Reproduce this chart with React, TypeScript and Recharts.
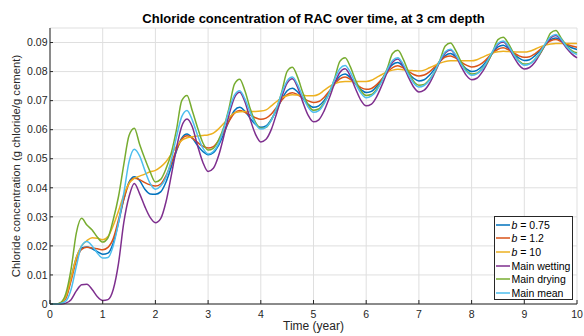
import { LineChart, Line, XAxis, YAxis, CartesianGrid, Legend } from "recharts";

const FONT = "'Liberation Sans', Arial, Helvetica, sans-serif";

// time axis, years (step 0.1)
const years = [
  0, 0.1, 0.2, 0.3, 0.4, 0.5, 0.6, 0.7, 0.8, 0.9,
  1, 1.1, 1.2, 1.3, 1.4, 1.5, 1.6, 1.7, 1.8, 1.9,
  2, 2.1, 2.2, 2.3, 2.4, 2.5, 2.6, 2.7, 2.8, 2.9,
  3, 3.1, 3.2, 3.3, 3.4, 3.5, 3.6, 3.7, 3.8, 3.9,
  4, 4.1, 4.2, 4.3, 4.4, 4.5, 4.6, 4.7, 4.8, 4.9,
  5, 5.1, 5.2, 5.3, 5.4, 5.5, 5.6, 5.7, 5.8, 5.9,
  6, 6.1, 6.2, 6.3, 6.4, 6.5, 6.6, 6.7, 6.8, 6.9,
  7, 7.1, 7.2, 7.3, 7.4, 7.5, 7.6, 7.7, 7.8, 7.9,
  8, 8.1, 8.2, 8.3, 8.4, 8.5, 8.6, 8.7, 8.8, 8.9,
  9, 9.1, 9.2, 9.3, 9.4, 9.5, 9.6, 9.7, 9.8, 9.9,
  10,
];

// b = 0.75
const b075 = [
  0, 0, 0.0003, 0.002, 0.009, 0.016, 0.0193, 0.0196, 0.019, 0.018,
  0.0171, 0.0175, 0.021, 0.028, 0.036, 0.042, 0.0438, 0.0425, 0.0395, 0.0379,
  0.0378, 0.0386, 0.0419, 0.0471, 0.0527, 0.0571, 0.0585, 0.0571, 0.0546, 0.0525,
  0.0514, 0.0521, 0.0547, 0.0587, 0.0631, 0.0666, 0.0677, 0.0663, 0.0639, 0.0618,
  0.0608, 0.0613, 0.0635, 0.0669, 0.0705, 0.0734, 0.0743, 0.073, 0.0707, 0.0687,
  0.0677, 0.0682, 0.07, 0.0729, 0.076, 0.0784, 0.0792, 0.0779, 0.0757, 0.0738,
  0.0728, 0.0732, 0.0749, 0.0774, 0.0802, 0.0824, 0.0831, 0.0818, 0.0796, 0.0777,
  0.0768, 0.0772, 0.0787, 0.081, 0.0836, 0.0855, 0.0862, 0.085, 0.0828, 0.0809,
  0.08, 0.0804, 0.0818, 0.0841, 0.0866, 0.0885, 0.0891, 0.088, 0.0862, 0.0846,
  0.0838, 0.0841, 0.0854, 0.0873, 0.0894, 0.091, 0.0916, 0.0907, 0.0893, 0.0882,
  0.0876,
];

// b = 1.2
const b12 = [
  0, 0, 0.0003, 0.002, 0.008, 0.015, 0.0188, 0.0195, 0.0193, 0.019,
  0.0187, 0.0195, 0.0225, 0.029, 0.036, 0.0415, 0.0433, 0.0428, 0.0418, 0.041,
  0.0406, 0.0413, 0.0441, 0.0484, 0.0531, 0.0567, 0.0579, 0.0571, 0.0556, 0.0543,
  0.0537, 0.0542, 0.0563, 0.0595, 0.063, 0.0657, 0.0666, 0.066, 0.065, 0.0641,
  0.0636, 0.064, 0.0654, 0.0677, 0.0702, 0.0721, 0.0727, 0.072, 0.0709, 0.0699,
  0.0694, 0.0697, 0.0711, 0.0733, 0.0757, 0.0775, 0.0781, 0.0773, 0.0758, 0.0745,
  0.0739, 0.0742, 0.0755, 0.0775, 0.0797, 0.0814, 0.082, 0.0813, 0.0801, 0.079,
  0.0785, 0.0788, 0.0799, 0.0816, 0.0835, 0.085, 0.0854, 0.0846, 0.0833, 0.0822,
  0.0816, 0.0819, 0.0829, 0.0846, 0.0864, 0.0877, 0.0882, 0.0875, 0.0864, 0.0854,
  0.0849, 0.0851, 0.0861, 0.0876, 0.0893, 0.0906, 0.091, 0.0903, 0.0895, 0.0888,
  0.0884,
];

// b = 10
const b10 = [
  0, 0, 0.0003, 0.0025, 0.009, 0.016, 0.02, 0.0218, 0.0228, 0.0226,
  0.0221, 0.0232, 0.027, 0.032, 0.0375, 0.0415, 0.0432, 0.044, 0.0447, 0.0455,
  0.046, 0.0472, 0.049, 0.0515, 0.0542, 0.0563, 0.0572, 0.0576, 0.0578, 0.058,
  0.0582, 0.0588, 0.0603, 0.0622, 0.0642, 0.0658, 0.0662, 0.0663, 0.0663, 0.0663,
  0.0664, 0.0668, 0.0682, 0.0697, 0.071, 0.0717, 0.072, 0.0719, 0.0718, 0.0717,
  0.0717, 0.0722, 0.0735, 0.0748, 0.0758, 0.0764, 0.0766, 0.0766, 0.0766, 0.0766,
  0.0766, 0.077, 0.078, 0.079, 0.0799, 0.0805, 0.0808, 0.0806, 0.0804, 0.0803,
  0.0802, 0.0805, 0.0813, 0.0821, 0.0829, 0.0835, 0.0837, 0.0837, 0.0837, 0.0837,
  0.0837, 0.0841, 0.0849, 0.0857, 0.0864, 0.0868, 0.087, 0.0869, 0.0868, 0.0867,
  0.0867, 0.087, 0.0877, 0.0885, 0.0891, 0.0895, 0.0897, 0.0897, 0.0897, 0.0897,
  0.0897,
];

// main wetting curve
const wetting = [
  0, 0, 0, 0.0003, 0.0015, 0.0045, 0.0066, 0.0068, 0.005, 0.0025,
  0.0012, 0.0015, 0.005, 0.014, 0.028, 0.037, 0.0415, 0.038, 0.0335, 0.0298,
  0.028, 0.0294, 0.0351, 0.0441, 0.0537, 0.0612, 0.0637, 0.061, 0.0545, 0.0488,
  0.0456, 0.0467, 0.0511, 0.0579, 0.0653, 0.071, 0.0729, 0.0695, 0.0635, 0.0584,
  0.0558, 0.0567, 0.0601, 0.0656, 0.0714, 0.076, 0.0775, 0.0745, 0.0694, 0.0649,
  0.0627, 0.0634, 0.0664, 0.0709, 0.0759, 0.0797, 0.081, 0.0784, 0.074, 0.0701,
  0.0682, 0.0688, 0.0714, 0.0754, 0.0798, 0.0832, 0.0843, 0.082, 0.0781, 0.0747,
  0.073, 0.0736, 0.0759, 0.0795, 0.0834, 0.0864, 0.0874, 0.0854, 0.0818, 0.0787,
  0.0772, 0.0777, 0.0798, 0.083, 0.0866, 0.0893, 0.0902, 0.0883, 0.0851, 0.0823,
  0.0809, 0.0814, 0.0832, 0.0861, 0.0892, 0.0916, 0.0924, 0.0906, 0.0881, 0.0861,
  0.0847,
];

// main drying curve
const drying = [
  0, 0, 0.0005, 0.0035, 0.012, 0.0245, 0.0295, 0.0272, 0.0255, 0.023,
  0.0213, 0.0228, 0.029, 0.037, 0.048, 0.058, 0.0605, 0.055, 0.05, 0.0455,
  0.042, 0.0429, 0.0465, 0.0519, 0.06, 0.07, 0.0718, 0.0665, 0.0607, 0.0555,
  0.053, 0.0536, 0.0565, 0.061, 0.0677, 0.0757, 0.0774, 0.0733, 0.0672, 0.0625,
  0.0605, 0.0608, 0.0634, 0.0673, 0.0732, 0.0801, 0.0815, 0.078, 0.0726, 0.0685,
  0.0667, 0.0671, 0.0693, 0.0726, 0.0776, 0.0835, 0.0848, 0.0816, 0.077, 0.0734,
  0.0718, 0.0721, 0.074, 0.0769, 0.0811, 0.0862, 0.0873, 0.0844, 0.0801, 0.0767,
  0.0753, 0.0756, 0.0773, 0.08, 0.084, 0.0888, 0.0898, 0.0872, 0.0834, 0.0804,
  0.0792, 0.0794, 0.081, 0.0833, 0.0868, 0.091, 0.0918, 0.0896, 0.0862, 0.0836,
  0.0826, 0.0828, 0.0842, 0.0863, 0.0895, 0.0933, 0.0941, 0.0915, 0.0889, 0.0872,
  0.0864,
];

// main mean curve
const mean = [
  0, 0, 0.0002, 0.001, 0.005, 0.013, 0.02, 0.0215, 0.02, 0.0175,
  0.0158, 0.016, 0.02, 0.028, 0.038, 0.049, 0.0533, 0.051, 0.046, 0.0415,
  0.0395, 0.0406, 0.0435, 0.0495, 0.0575, 0.0645, 0.0666, 0.0633, 0.0581, 0.0537,
  0.0516, 0.0525, 0.0553, 0.0605, 0.0669, 0.0719, 0.0734, 0.0705, 0.0659, 0.062,
  0.0602, 0.0609, 0.0632, 0.0675, 0.0727, 0.0768, 0.0781, 0.0754, 0.0712, 0.0677,
  0.066, 0.0666, 0.0689, 0.0728, 0.0773, 0.081, 0.0821, 0.0797, 0.0758, 0.0726,
  0.071, 0.0716, 0.0735, 0.0768, 0.0807, 0.0838, 0.0848, 0.0826, 0.079, 0.0761,
  0.0747, 0.0752, 0.077, 0.0802, 0.0838, 0.0868, 0.0877, 0.0857, 0.0826, 0.08,
  0.0787, 0.0792, 0.0808, 0.0837, 0.087, 0.0897, 0.0905, 0.0887, 0.0858, 0.0834,
  0.0822, 0.0826, 0.0841, 0.0867, 0.0896, 0.092, 0.0928, 0.0911, 0.0886, 0.0868,
  0.0859,
];

const seriesKeys = ["b075", "b12", "b10", "wetting", "drying", "mean"];
const seriesNames = ["b = 0.75", "b = 1.2", "b = 10", "Main wetting", "Main drying", "Main mean"];
const seriesColors = ["#0072BD", "#D95319", "#EDB120", "#7E2F8E", "#77AC30", "#4DBEEE"];

const xTicks = [0, 1, 2, 3, 4, 5, 6, 7, 8, 9, 10];
const yTicks = [0, 0.01, 0.02, 0.03, 0.04, 0.05, 0.06, 0.07, 0.08, 0.09];

const data = years.map((t, i) => ({
  t,
  b075: b075[i],
  b12: b12[i],
  b10: b10[i],
  wetting: wetting[i],
  drying: drying[i],
  mean: mean[i],
}));

function LegendLabel({ text }: { text: string }) {
  if (text.startsWith("b = ")) {
    return (
      <span style={{ whiteSpace: "nowrap" }}>
        <i>b</i>
        {text.slice(1)}
      </span>
    );
  }
  return <span style={{ whiteSpace: "nowrap" }}>{text}</span>;
}

function LegendBox(props: any) {
  const payload = [...(props.payload || [])].sort(
    (a: any, b: any) => seriesNames.indexOf(a.value) - seriesNames.indexOf(b.value)
  );
  return (
    <div
      style={{
        background: "#fff",
        border: "1px solid #262626",
        boxSizing: "border-box",
        width: 79,
        height: 84,
        paddingTop: 1,
        fontFamily: FONT,
        fontSize: 10.5,
        color: "#000",
        overflow: "hidden",
      }}
    >
      {payload.map((entry: any) => (
        <div key={entry.value} style={{ display: "flex", alignItems: "center", height: 13.65 }}>
          <svg width={16} height={4} style={{ flexShrink: 0, marginRight: 0.5 }}>
            <line x1={1} y1={2} x2={15} y2={2} stroke={entry.color} strokeWidth={1.5} />
          </svg>
          <LegendLabel text={entry.value} />
        </div>
      ))}
    </div>
  );
}

export default function App() {
  return (
    <div style={{ position: "absolute", left: 0, top: 0, width: 584, height: 336, background: "#fff" }}>
      <div
        style={{
          position: "absolute",
          left: 50,
          width: 527,
          top: 11,
          textAlign: "center",
          fontFamily: FONT,
          fontWeight: "bold",
          fontSize: 13,
          lineHeight: "15px",
          color: "#000",
        }}
      >
        Chloride concentration of RAC over time, at 3 cm depth
      </div>
      <LineChart width={584} height={336} data={data} margin={{ top: 28, right: 7, left: 0, bottom: 2 }}>
        <CartesianGrid stroke="#dfdfdf" />
        <XAxis
          dataKey="t"
          type="number"
          domain={[0, 10]}
          ticks={xTicks}
          height={30}
          stroke="#262626"
          tickSize={-4}
          tickMargin={11}
          tick={{ fontSize: 10.5, fill: "#262626", fontFamily: FONT }}
          label={{ value: "Time (year)", position: "insideBottom", offset: 4, fontSize: 12, fill: "#262626", fontFamily: FONT }}
        />
        <YAxis
          type="number"
          domain={[0, 0.095]}
          ticks={yTicks}
          width={50}
          stroke="#262626"
          tickSize={-3}
          tickMargin={5.5}
          tickFormatter={(v: number) => (v === 0 ? "0" : v.toFixed(2))}
          tick={{ fontSize: 10.5, fill: "#262626", fontFamily: FONT }}
          label={{
            value: "Chloride concentration (g chloride/g cement)",
            angle: -90,
            position: "center",
            dx: -9,
            fontSize: 11.3,
            fill: "#262626",
            fontFamily: FONT,
          }}
        />
        <Legend
          layout="vertical"
          align="center"
          verticalAlign="middle"
          wrapperStyle={{ left: 494, top: 216, width: 79 }}
          content={<LegendBox />}
        />
        {seriesKeys.map((k, i) => (
          <Line
            key={k}
            dataKey={k}
            name={seriesNames[i]}
            stroke={seriesColors[i]}
            strokeWidth={1.5}
            type="monotone"
            dot={false}
            activeDot={false}
            isAnimationActive={false}
          />
        ))}
      </LineChart>
    </div>
  );
}
